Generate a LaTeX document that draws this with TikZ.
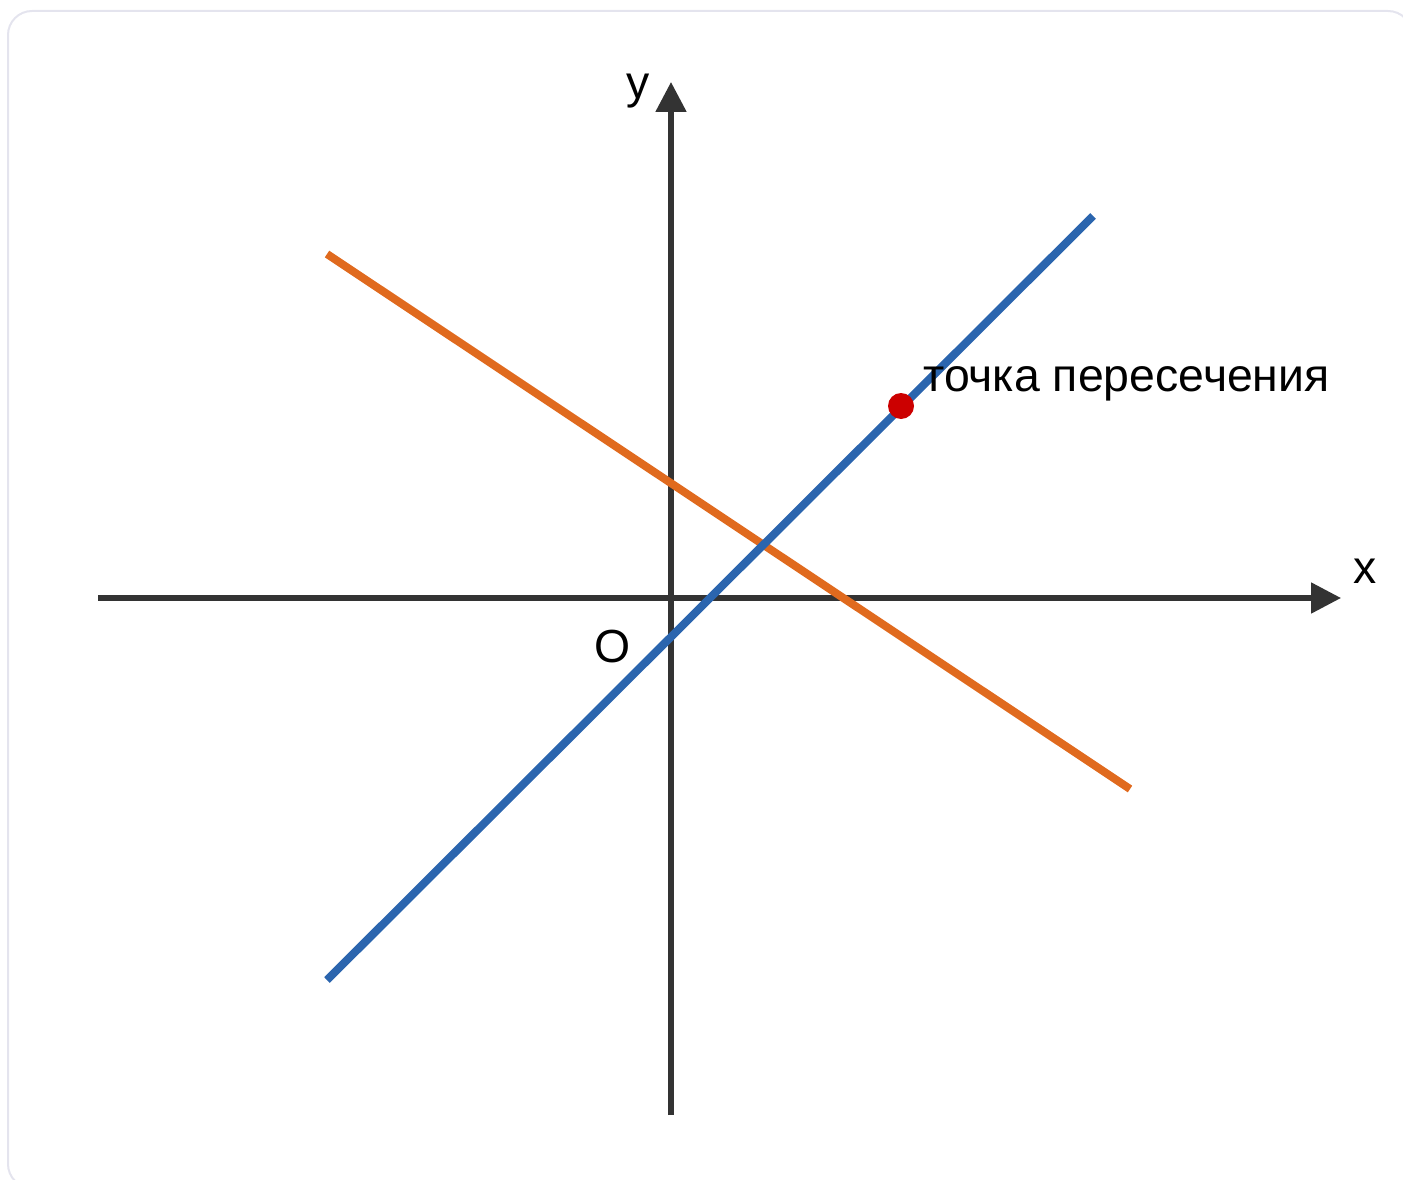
\documentclass[tikz,border=0pt]{standalone}
\usepackage{fontspec}
\setmainfont{Liberation Sans}
\usetikzlibrary{arrows.meta}
\definecolor{axisgray}{HTML}{333333}
\definecolor{lineblue}{HTML}{2B65AE}
\definecolor{lineorange}{HTML}{E06A1E}
\definecolor{dotred}{HTML}{CC0000}
\definecolor{framegray}{HTML}{E4E4EE}
\tikzset{
  axis/.style={line width=1.3mm,axisgray,-{Triangle[length=7.5mm,width=7.5mm]}},
  graphline/.style={line width=2mm},
  lbl/.style={font=\fontsize{33}{40}\selectfont,inner sep=0pt,anchor=base}
}
\begin{document}
\begin{tikzpicture}[x=0.25mm,y=-0.25mm]
    \useasboundingbox (0,0) rectangle (1403,1180);
    \draw[framegray,line width=0.5mm,rounded corners=6mm] (8,11) rectangle (1412,1188);

    % axes
    \coordinate (xl) at (98,598);
    \coordinate (xr) at (1341,598);
    \coordinate (yb) at (671,1115);
    \coordinate (yt) at (671,82);
    \draw[axis] (xl) -- (xr);
    \draw[axis] (yb) -- (yt);
    \node[lbl] (xlab) at (1365,583) {x};
    \node[lbl] (ylab) at (638,99) {y};
    \node[lbl] (orig) at (613,662) {O};

    % lines
    \coordinate (o1) at (327,254);
    \coordinate (o2) at (1130,789);
    \coordinate (b1) at (327,980);
    \coordinate (b2) at (1093,216);
    \draw[graphline,lineorange] (o1) -- (o2);
    \draw[graphline,lineblue] (b1) -- (b2);

    \node[circle,fill=dotred,minimum size=6.5mm,inner sep=0pt] (pt) at (901,406) {};
    \node[lbl,anchor=base west] (ptlab) at (923,391) {точка пересечения};
\end{tikzpicture}
\end{document}
